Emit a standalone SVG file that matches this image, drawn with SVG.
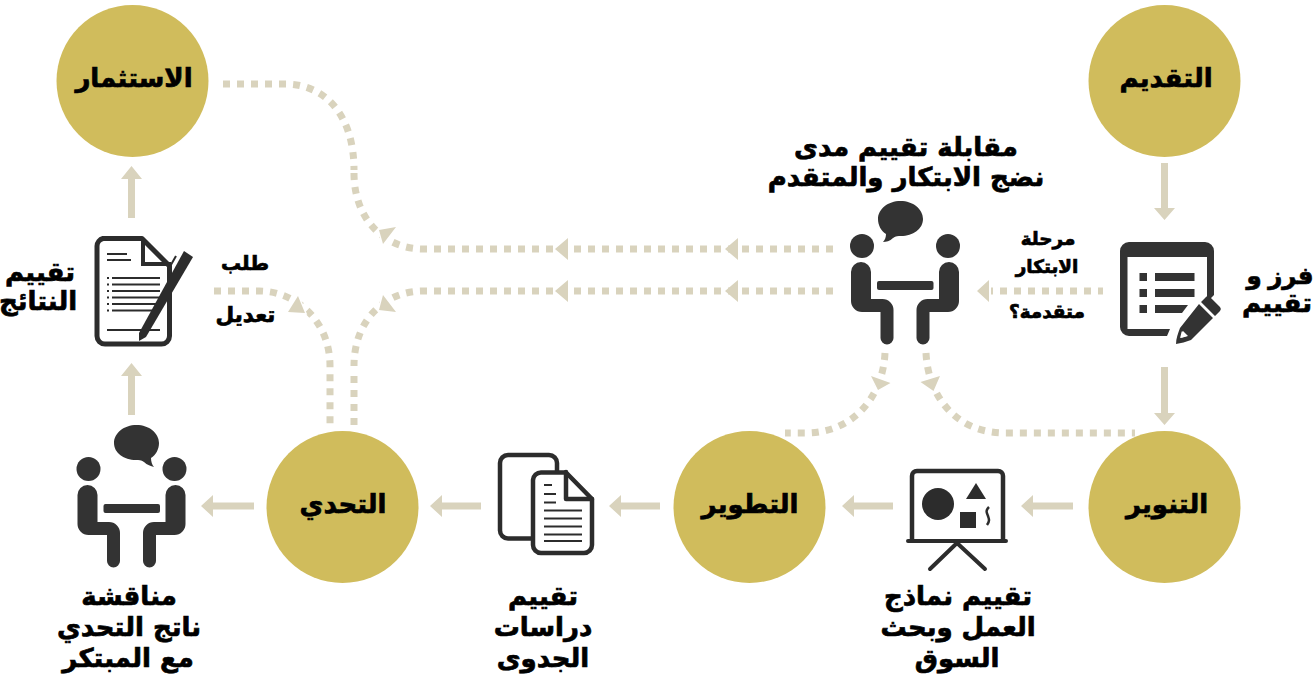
<svg xmlns="http://www.w3.org/2000/svg" width="1313" height="674" viewBox="0 0 1313 674">
<style>
text{font-family:"DejaVu Sans","Noto Sans",sans-serif;font-weight:700;fill:#000;stroke:#000;stroke-width:.7;text-anchor:middle;direction:rtl}
.c{font-size:26px}.l{font-size:26px}.s{font-size:18.400px}
.step{fill:#d0bc5c}
.dot{fill:none;stroke:#d9d3bd;stroke-width:7;stroke-dasharray:7 7}
.sol{fill:none;stroke:#d9d3bd;stroke-width:7}
.ah{fill:#d9d3bd}
.ah2{fill:#d9d3bd;stroke:#fff;stroke-width:3;paint-order:stroke}
.ic{fill:#333}
.ln{fill:none;stroke:#2c2c2c;stroke-width:4.500;stroke-linejoin:round;stroke-linecap:round}
.th{fill:none;stroke:#2c2c2c;stroke-width:2}
</style>
<defs>
<g id="people">
<circle cx="-43.500" cy="0" r="12"/><circle cx="42.500" cy="0" r="12"/>
<path d="M-54.500,26a10,10 0 0 1 20,0V53H-23a11,11 0 0 1 11,11V92a6.500,6.500 0 0 1-13,0V66H-43.500a11,11 0 0 1-11,-11Z"/>
<path d="M53.500,26a10,10 0 0 0-20,0V53H22a11,11 0 0 0-11,11V92a6.500,6.500 0 0 0 13,0V66H42.500a11,11 0 0 0 11,-11Z"/>
<rect x="-28.500" y="35" width="56.500" height="9" rx="2"/>
</g>
</defs>
<g id="connectors">
<path class="dot" d="M833,249H423C385,249 354,220 354,173"/>
<path class="dot" d="M223,84H285C325,84 354,115 354,170"/>
<path class="dot" d="M833,291H423C385,291 354,320 354,366"/>
<path class="dot" d="M354,425V370"/>
<path class="dot" d="M214,291H259C295,291 330,320 330,366V425"/>
<path class="dot" d="M1103,291H991" stroke-dashoffset="2"/>
<path class="dot" d="M885,353C883,395 855,433 805,433H785"/>
<path class="dot" d="M926,353C928,395 955,433 1005,433H1135"/>
<path class="ah2" d="M396,227L383,244L379,230ZM383,295L379,310L396,312ZM298,296L288,312L305,313ZM890.500,383L871,376L878,390ZM920.500,382L940,376L933.500,391Z"/>
<path class="ah" d="M555,249L568,238V260ZM725,249L738,238V260ZM555,291L568,280V302ZM725,291L738,280V302ZM977,291L989,280V302Z"/>
<path class="sol" d="M1164.500,163V209M1164.500,367V414M131.500,218V178M131.500,415V375M1073,506H1032M893,506H853M660,506H620M481,506H441M254,506H212"/>
<path class="ah" d="M1154,208H1175L1164.500,220ZM1154,413H1175L1164.500,425ZM121,179H142L131.500,166ZM121,376H142L131.500,363ZM1021,506L1033,495V517ZM842,506L854,495V517ZM609,506L621,495V517ZM430,506L442,495V517ZM201,506L213,495V517Z"/>
</g>
<g id="n-istithmar"><circle class="step" cx="132.500" cy="81" r="76"/><text class="c" x="134" y="87">الاستثمار</text></g>
<g id="n-taqdim"><circle class="step" cx="1164.500" cy="81" r="76"/><text class="c" x="1166" y="87">التقديم</text></g>
<g id="n-tahaddi"><circle class="step" cx="342.500" cy="507" r="76"/><text class="c" x="343" y="513">التحدي</text></g>
<g id="n-tatwir"><circle class="step" cx="749.500" cy="507" r="76"/><text class="c" x="750" y="513">التطوير</text></g>
<g id="n-tanwir"><circle class="step" cx="1164.500" cy="507" r="76"/><text class="c" x="1167" y="513">التنوير</text></g>
<g id="n-interview" class="ic">
<use href="#people" x="905.500" y="246"/>
<path d="M878,219c0,-10 10,-18 22.500,-18s22.500,8 22.500,18s-10,17 -22,17c-3,0 -5,0 -8,2c-3,3 -7,4 -10,4c2,-2 3,-5 3,-8c-5,-3 -8,-9 -8,-15z"/>
<text class="l" x="906" y="156">مقابلة تقييم مدى</text>
<text class="l" x="906" y="186">نضج الابتكار والمتقدم</text>
<text class="s" x="1048" y="245">مرحلة</text>
<text class="s" x="1047" y="273">الابتكار</text>
<text class="s" x="1047" y="318">متقدمة؟</text>
</g>
<g id="n-discuss" class="ic">
<use href="#people" x="132" y="469"/>
<path d="M159,443c0,-10 -10,-18 -22.500,-18s-22.500,8 -22.500,18s10,17 22,17c3,0 5,0 8,2c3,3 7,4 10,5c-2,-2 -3,-6 -3,-9c5,-3 8,-9 8,-15z"/>
<text class="l" x="129" y="605">مناقشة</text>
<text class="l" x="129" y="636">ناتج التحدي</text>
<text class="l" x="128" y="667">مع المبتكر</text>
</g>
<g id="n-sort">
<path class="ic" fill-rule="evenodd" d="M1129,242H1205a9,9 0 0 1 9,9V295L1207,302V257H1127.500V329H1170L1167,336H1129a9,9 0 0 1-9,-9V251a9,9 0 0 1 9,-9Z"/>
<path class="ic" d="M1139.500,273h7.500v8h-7.500zM1155,273h39.500v8H1155zM1139.500,289h7.500v8h-7.500zM1155,289h39.500v8H1155zM1139.500,305h7.500v8h-7.500zM1155,305h33l-6,8H1155zM1210,297l10,10a3,3 0 0 1 0,4l-5,5l-14,-14l5,-5a3,3 0 0 1 4,0zM1199,304l14,14l-22,22c-5,2 -10,3 -15,4c0,-5 2,-11 4,-16zM1182,331c-1,2 -1,4 -2,7l7,-2z"/>
<path d="M1183,331l5,5l-7,2z" fill="#fff"/>
<text class="l" x="1280" y="284" style="font-size:24.500px;word-spacing:-2px">فرز و</text>
<text class="l" x="1277" y="312">تقييم</text>
</g>
<g id="n-results">
<path d="M103,238.500H142L169.500,266V336a8,8 0 0 1-8,8H105a8,8 0 0 1-8,-8V246a8,8 0 0 1 6,-7.500Z" fill="#fff" stroke="#2c2c2c" stroke-width="5" stroke-linejoin="round"/>
<path d="M143,238V264H171" fill="none" stroke="#2c2c2c" stroke-width="4"/>
<path class="th" d="M107,254H127M107,260H131M112,278H160M112,284.500H160M112,291H160M112,297.500H160M112,304H160M112,310.500H160M107,330H160M107,278H109M107,284.500H109M107,291H109M107,297.500H109M107,304H109M107,310.500H109"/>
<path d="M184,251L193,257L146,337L139,341L139,333Z" fill="#2c2c2c"/>
<path d="M176,256L168,270" stroke="#2c2c2c" stroke-width="2"/>
<text class="l" x="40" y="281">تقييم</text>
<text class="l" x="38" y="310">النتائج</text>
<text class="s" x="245" y="270" style="font-size:20px">طلب</text>
<text class="s" x="245.500" y="322" style="font-size:21.500px">تعديل</text>
</g>
<g id="n-feasibility">
<path class="ln" d="M533,538.500H508a8,8 0 0 1-8,-8V463a8,8 0 0 1 8,-8H549a8,8 0 0 1 8,8V471"/>
<path d="M541,472.500H566L592,499V545a8,8 0 0 1-8,8H541a8,8 0 0 1-8,-8V480a8,8 0 0 1 8,-7.500Z" fill="#fff" stroke="#2c2c2c" stroke-width="4.500" stroke-linejoin="round"/>
<path class="ln" d="M566,472V499H592"/>
<path class="th" d="M544,485H552M544,494H556M544,502.500H556M544,510.500H582M544,518.500H582M544,526.500H582M544,534.500H582M544,541H582"/>
<text class="l" x="543" y="605">تقييم</text>
<text class="l" x="543" y="636">دراسات</text>
<text class="l" x="543" y="667">الجدوى</text>
</g>
<g id="n-models">
<path d="M912,540V476a5,5 0 0 1 5,-5H998a5,5 0 0 1 5,5V540" fill="none" stroke="#2c2c2c" stroke-width="4.500"/>
<path d="M908,541H1006M957,543L930,569M957,543L985,569" fill="none" stroke="#2c2c2c" stroke-width="4" stroke-linecap="round"/>
<circle cx="938" cy="504" r="16" fill="#2c2c2c"/>
<path d="M976,483L986,499H966ZM960,512H976V528H960Z" fill="#2c2c2c"/>
<path d="M989,507c-4,4 -2,6 -1,9s2,5 -1,9" fill="none" stroke="#2c2c2c" stroke-width="2.500"/>
<text class="l" x="958" y="605">تقييم نماذج</text>
<text class="l" x="958" y="636">العمل وبحث</text>
<text class="l" x="957" y="667">السوق</text>
</g>
</svg>
